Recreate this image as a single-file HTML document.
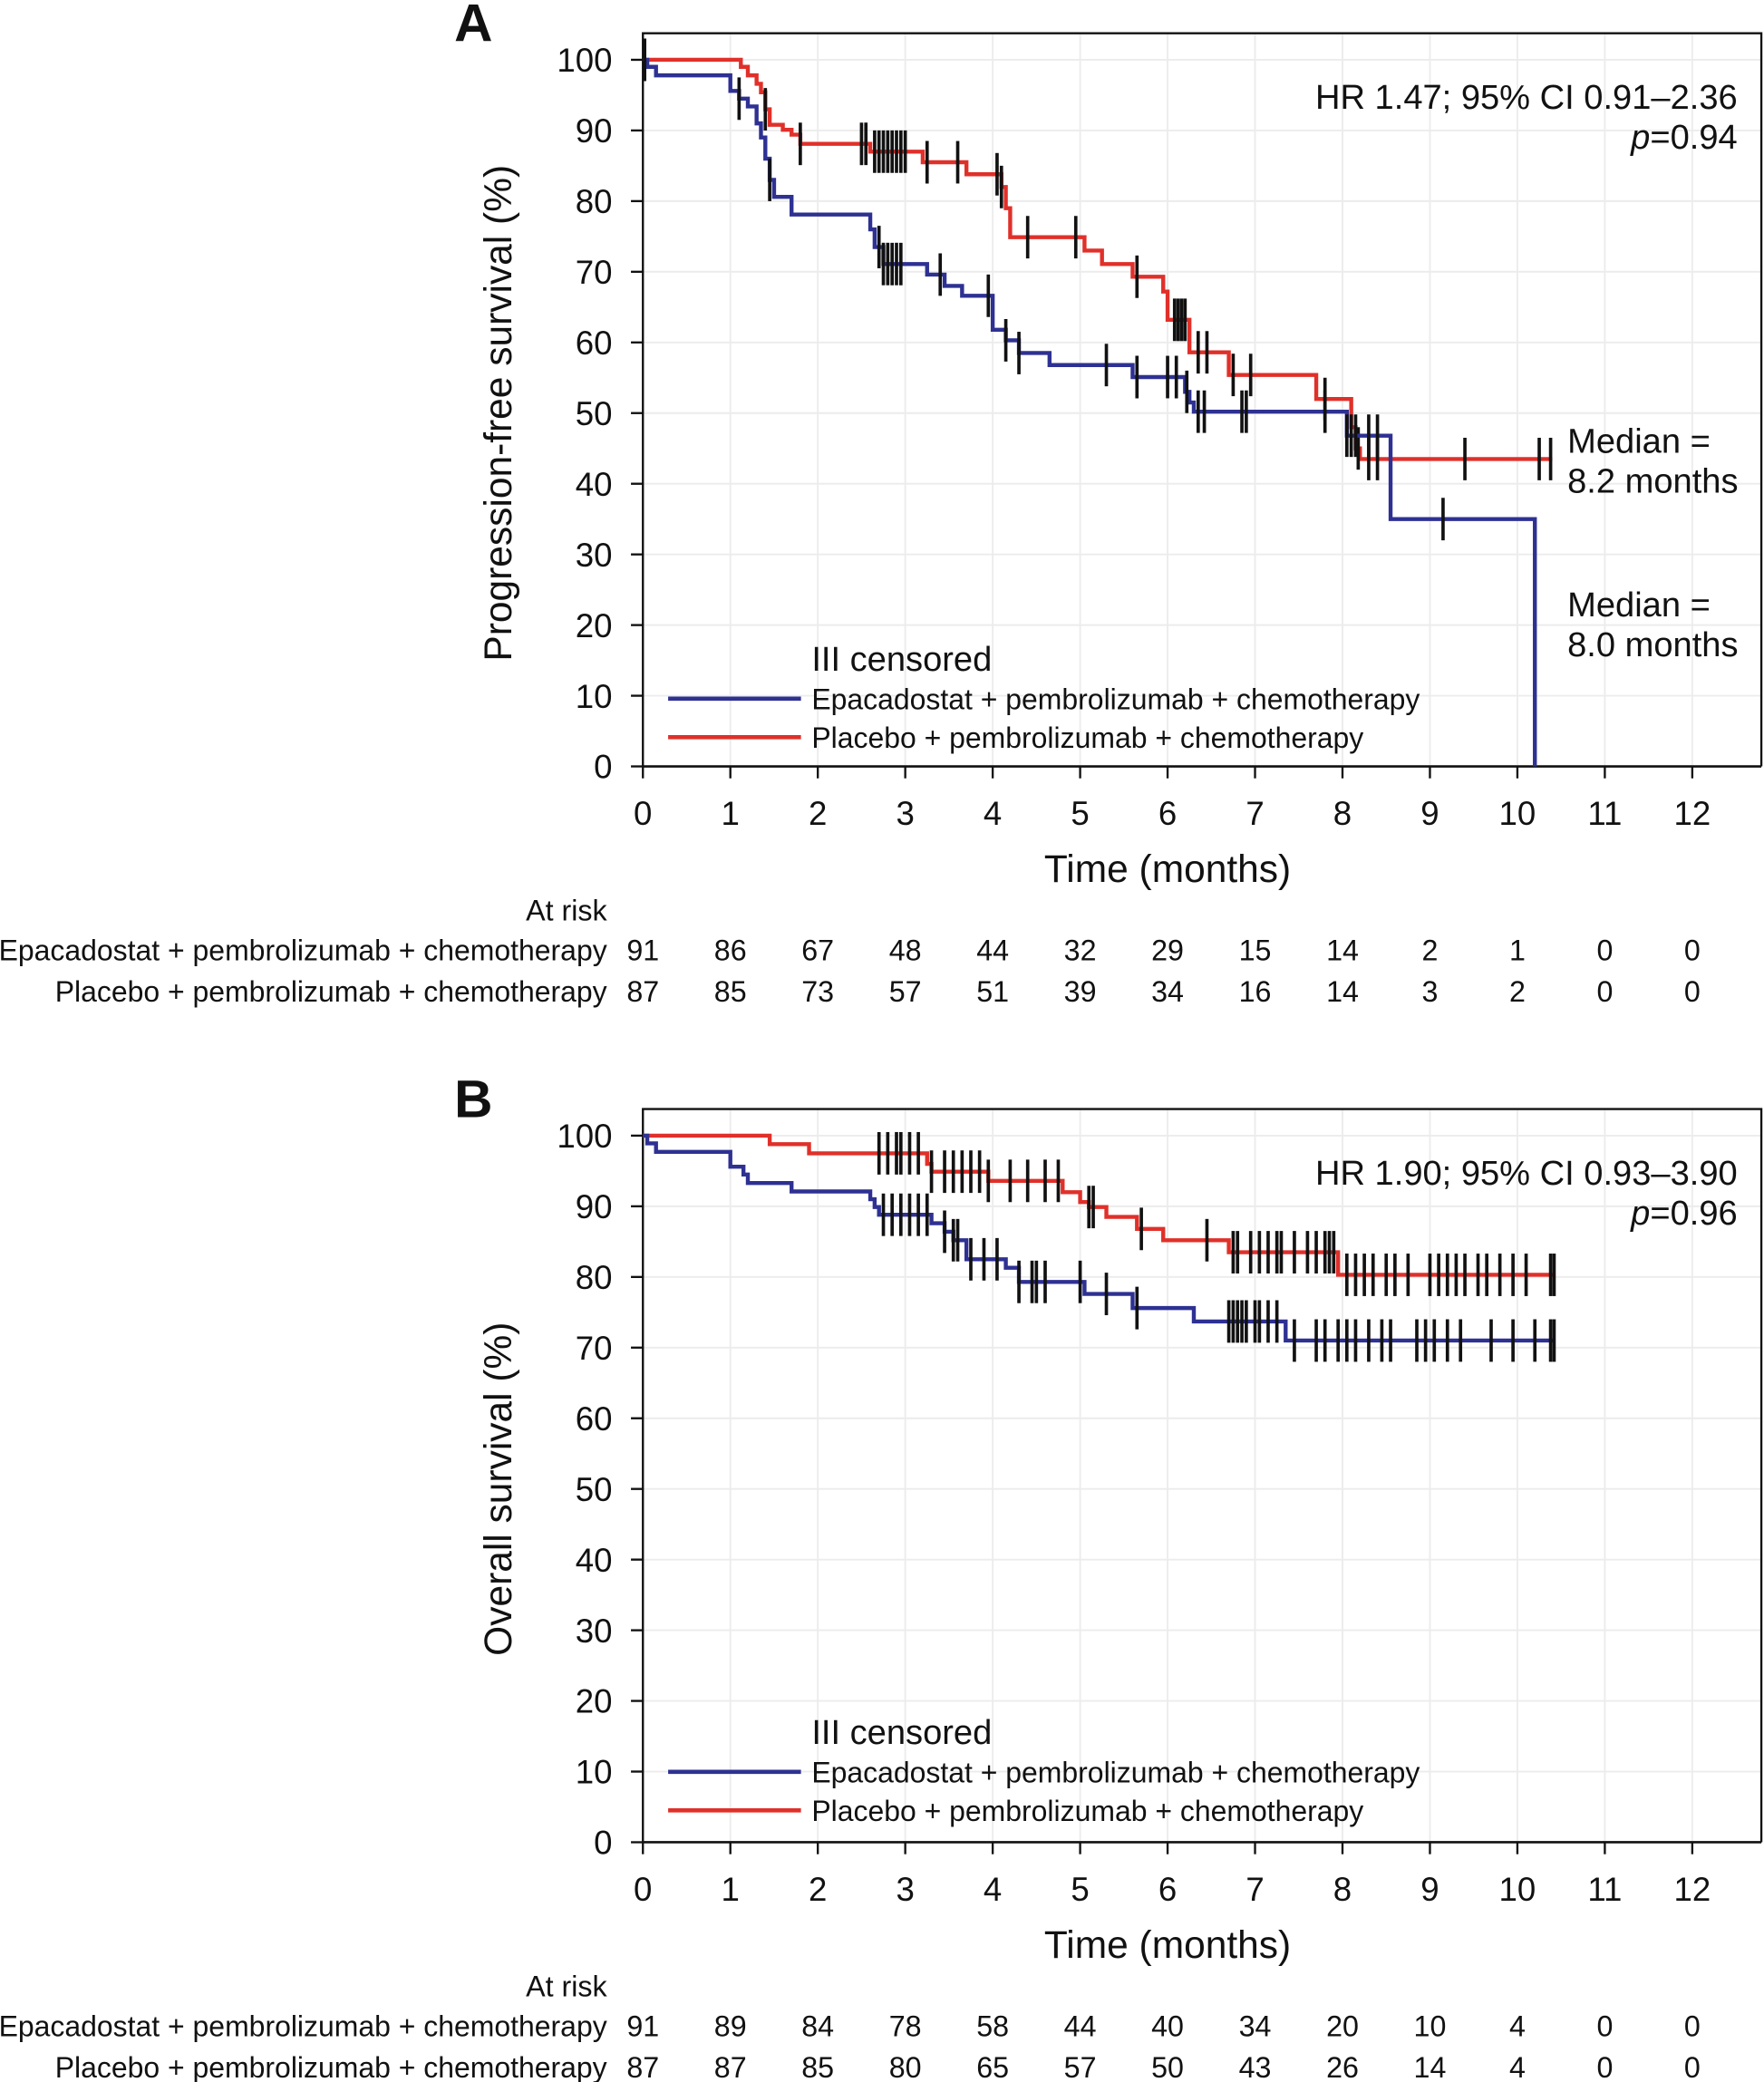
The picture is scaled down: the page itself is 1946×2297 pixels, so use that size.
<!DOCTYPE html>
<html><head><meta charset="utf-8"><style>
html,body{margin:0;padding:0;background:#fff}
svg{display:block}
text{font-family:"Liberation Sans",Arial,sans-serif;fill:#111}
</style></head><body>
<svg id="fig" width="1946" height="2297" viewBox="0 0 1328 1567.5" xmlns="http://www.w3.org/2000/svg"></svg>
<script>
// ---- Panel A data (PFS) ----
const monthTicks = [0,1,2,3,4,5,6,7,8,9,10,11,12];
const pctTicks = [0,10,20,30,40,50,60,70,80,90,100];
const pfsBlueT = [0,0.05,0.15,1.0,1.1,1.2,1.3,1.35,1.4,1.45,1.5,1.7,2.6,2.65,2.75,3.25,3.45,3.65,4.0,4.15,4.3,4.65,5.6,6.2,6.25,6.3,8.05,8.55,10.2];
const pfsBlueS = [100,99,97.8,95.6,94.5,93.4,91,89,86,83,80.6,78.1,76,73.5,71.1,69.6,68.0,66.6,61.8,60.3,58.5,56.8,55.1,53,51.5,50.2,46.8,35,0];
const pfsBlueEnd = 10.2;
const pfsBlueCens = [0.02,1.1,1.45,2.7,2.75,2.8,2.85,2.9,2.95,3.4,3.95,4.15,4.3,5.3,5.65,6.0,6.1,6.22,6.35,6.42,6.85,6.9,7.8,8.05,8.1,8.15,8.3,8.4,9.15];
const pfsRedT = [0,1.12,1.2,1.3,1.35,1.4,1.45,1.6,1.7,1.8,2.6,3.2,3.7,4.1,4.15,4.2,5.05,5.25,5.6,5.95,6.0,6.25,6.7,7.7,8.1,8.15,8.2];
const pfsRedS = [100,99,97.8,96.6,95.4,93,90.8,90.1,89.4,88.1,87.0,85.5,83.8,82,79,74.9,73,71.1,69.3,67.2,63.2,58.6,55.4,52,48,45,43.5];
const pfsRedEnd = 10.4;
const pfsRedCens = [0.02,1.4,1.8,2.5,2.55,2.65,2.7,2.75,2.8,2.85,2.9,2.95,3.0,3.25,3.6,4.05,4.1,4.4,4.95,5.65,6.08,6.12,6.16,6.2,6.35,6.45,6.75,6.95,7.8,8.18,8.3,8.4,9.4,10.25,10.38];
const riskA1 = [91,86,67,48,44,32,29,15,14,2,1,0,0];
const riskA2 = [87,85,73,57,51,39,34,16,14,3,2,0,0];
// ---- Panel B data (OS) ----
const osBlueT = [0,0.05,0.15,1.0,1.15,1.2,1.7,2.6,2.65,2.7,3.3,3.45,3.55,3.7,4.15,4.3,5.05,5.6,6.3,7.35];
const osBlueS = [100,98.9,97.7,95.6,94.5,93.3,92.1,91,89.9,88.8,87.6,86.4,85.2,82.5,81.3,79.3,77.6,75.6,73.7,71.0];
const osBlueEnd = 10.42;
const osBlueCens = [2.75,2.85,2.95,3.05,3.15,3.25,3.45,3.55,3.6,3.75,3.9,4.05,4.3,4.45,4.5,4.6,5.0,5.3,5.65,6.7,6.75,6.8,6.85,6.9,7.0,7.05,7.15,7.25,7.45,7.7,7.8,7.95,8.05,8.15,8.3,8.45,8.55,8.85,8.95,9.05,9.2,9.35,9.7,9.95,10.2,10.38,10.42];
const osRedT = [0,1.45,1.9,3.25,3.3,3.95,4.8,5.0,5.1,5.3,5.65,5.95,6.7,7.95];
const osRedS = [100,98.8,97.5,96,94.9,93.6,92,90.6,89.9,88.5,86.8,85.2,83.5,80.3];
const osRedEnd = 10.42;
const osRedCens = [2.7,2.8,2.9,2.95,3.05,3.15,3.3,3.45,3.55,3.65,3.75,3.85,3.95,4.2,4.4,4.6,4.75,5.1,5.15,5.7,6.45,6.75,6.8,6.95,7.05,7.15,7.25,7.3,7.45,7.6,7.7,7.8,7.85,7.9,8.05,8.15,8.25,8.35,8.5,8.6,8.75,9.0,9.1,9.2,9.3,9.4,9.55,9.65,9.8,9.95,10.1,10.38,10.42];
const riskB1 = [91,89,84,78,58,44,40,34,20,10,4,0,0];
const riskB2 = [87,87,85,80,65,57,50,43,26,14,4,0,0];

const NS="http://www.w3.org/2000/svg";
const svg=document.getElementById('fig');
function mk(tag,attrs,parent){const e=document.createElementNS(NS,tag);for(const k in attrs)e.setAttribute(k,attrs[k]);(parent||svg).appendChild(e);return e;}
function txt(s,attrs,parent){const e=mk('text',attrs,parent);e.textContent=s;return e;}
const BLUE="#2e3192", RED="#e0302a";
const X0=484, XU=(1274-484)/12;
function xs(m){return X0+m*XU;}
function stepAt(T,S,t){let v=S[0];for(let i=0;i<T.length;i++){if(T[i]<=t)v=S[i];}return v;}

function panel(cfg){
  const g=mk('g',{});
  
  
  const top=cfg.top, y100=cfg.y100, y0=cfg.y0;
  const ys=p=>y0-(y0-y100)*p/100;
  for(const m of monthTicks){const l=mk('line',{x1:xs(m),x2:xs(m),y1:top,y2:y0,stroke:'#ececec','stroke-width':1.3},g);
    }
  for(const p of pctTicks){const l=mk('line',{x1:X0,x2:1326,y1:ys(p),y2:ys(p),stroke:'#ececec','stroke-width':1.3},g);
    }
  const fr=mk('path',{d:`M${X0} ${y0} V${top} H1326 V${y0}`,fill:'none',stroke:'#111','stroke-width':1.6},g);
  
  const xa=mk('line',{x1:X0,x2:1326,y1:y0,y2:y0,stroke:'#111','stroke-width':1.8},g);
  
  for(const m of monthTicks){mk('line',{x1:xs(m),x2:xs(m),y1:y0,y2:y0+9,stroke:'#111','stroke-width':1.6},g);
    const t=txt(String(m),{x:xs(m),y:y0+44,'font-size':25,'text-anchor':'middle'},g);
    }
  for(const p of pctTicks){mk('line',{x1:X0-9,x2:X0,y1:ys(p),y2:ys(p),stroke:'#111','stroke-width':1.6},g);
    const t=txt(String(p),{x:461,y:ys(p)+9,'font-size':25,'text-anchor':'end'},g);
    }
  const xt=txt('Time (months)',{x:879,y:y0+87,'font-size':29,'text-anchor':'middle'},g);
  
  const yc=(y100+y0)/2;
  const yt=txt(cfg.ytitle,{x:0,y:0,'font-size':29,'text-anchor':'middle',transform:`translate(385 ${yc}) rotate(-90)`},g);
  
  const L=txt(cfg.letter,{x:342,y:top+6,'font-size':40,'font-weight':'bold'},g);
  
  function curve(T,S,end,cens,color,nm){
    let d=`M${xs(T[0])} ${ys(S[0])}`;
    for(let i=1;i<T.length;i++){d+=` H${xs(T[i])} V${ys(S[i])}`;}
    if(end>T[T.length-1]) d+=` H${xs(end)}`;
    const p=mk('path',{d:d,fill:'none',stroke:color,'stroke-width':3},g);
    
    for(const c of cens){const yy=ys(stepAt(T,S,c));
      const l=mk('line',{x1:xs(c),x2:xs(c),y1:yy-16,y2:yy+16,stroke:'#111','stroke-width':2.5},g);
      }
  }
  curve(cfg.rT,cfg.rS,cfg.rEnd,cfg.rC,RED,'placebo');
  curve(cfg.bT,cfg.bS,cfg.bEnd,cfg.bC,BLUE,'epacadostat');
  const h1=txt(cfg.hr,{x:1308,y:top+57,'font-size':26,'text-anchor':'end'},g);
  
  const h2=mk('text',{x:1308,y:top+87,'font-size':26,'text-anchor':'end'},g);
  
  const ip=mk('tspan',{'font-style':'italic'},h2);ip.textContent='p';
  const vp=mk('tspan',{},h2);vp.textContent=cfg.p;
  if(cfg.medians){for(const m of cfg.medians){
    const a=txt('Median =',{x:1180,y:m.y,'font-size':26},g);
    const b=txt(m.v,{x:1180,y:m.y+30,'font-size':26},g);}}
  const lg=mk('g',{},g);
  const ly=cfg.legY;
  txt('III censored',{x:611,y:ly+8,'font-size':26},lg);
  mk('line',{x1:503,x2:603,y1:ly+29,y2:ly+29,stroke:BLUE,'stroke-width':3.2},lg);
  txt('Epacadostat + pembrolizumab + chemotherapy',{x:611,y:ly+37,'font-size':21.8},lg);
  mk('line',{x1:503,x2:603,y1:ly+58,y2:ly+58,stroke:RED,'stroke-width':3.2},lg);
  txt('Placebo + pembrolizumab + chemotherapy',{x:611,y:ly+66,'font-size':21.8},lg);
  const ar=mk('g',{},g);
  const ry=cfg.riskY;
  txt('At risk',{x:457,y:ry,'font-size':22,'text-anchor':'end'},ar);
  txt('Epacadostat + pembrolizumab + chemotherapy',{x:457,y:ry+30,'font-size':21.8,'text-anchor':'end'},ar);
  txt('Placebo + pembrolizumab + chemotherapy',{x:457,y:ry+61,'font-size':21.8,'text-anchor':'end'},ar);
  cfg.r1.forEach((v,i)=>{const t=txt(String(v),{x:xs(monthTicks[i]),y:ry+30,'font-size':22,'text-anchor':'middle'},ar);});
  cfg.r2.forEach((v,i)=>{const t=txt(String(v),{x:xs(monthTicks[i]),y:ry+61,'font-size':22,'text-anchor':'middle'},ar);});
}
panel({name:'panel-a-pfs',letter:'A',top:25,y100:45,y0:577,ytitle:'Progression-free survival (%)',
  bT:pfsBlueT,bS:pfsBlueS,bEnd:pfsBlueEnd,bC:pfsBlueCens,rT:pfsRedT,rS:pfsRedS,rEnd:pfsRedEnd,rC:pfsRedCens,
  hr:'HR 1.47; 95% CI 0.91–2.36',p:'=0.94',medians:[{y:341,v:'8.2 months'},{y:464,v:'8.0 months'}],
  legY:497,riskY:693,r1:riskA1,r2:riskA2});
panel({name:'panel-b-os',letter:'B',top:835,y100:855,y0:1387,ytitle:'Overall survival (%)',
  bT:osBlueT,bS:osBlueS,bEnd:osBlueEnd,bC:osBlueCens,rT:osRedT,rS:osRedS,rEnd:osRedEnd,rC:osRedCens,
  hr:'HR 1.90; 95% CI 0.93–3.90',p:'=0.96',medians:null,
  legY:1305,riskY:1503,r1:riskB1,r2:riskB2});
</script>
</body></html>
